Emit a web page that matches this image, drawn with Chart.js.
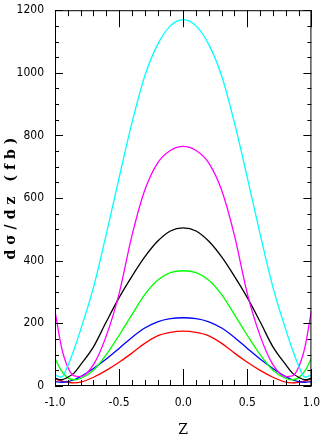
<!DOCTYPE html>
<html>
<head>
<meta charset="utf-8">
<script src="https://cdn.jsdelivr.net/npm/chart.js@4.4.1/dist/chart.umd.min.js"></script>
<style>
  html, body { margin: 0; padding: 0; background: #fff; }
  canvas { display: block; }
</style>
</head>
<body>
<canvas id="chart" width="322" height="436"></canvas>
<script>
const zValues = [-1, -0.95, -0.9, -0.85, -0.8, -0.7, -0.6, -0.5, -0.4, -0.3, -0.2, -0.1, 0,
                 0.1, 0.2, 0.3, 0.4, 0.5, 0.6, 0.7, 0.8, 0.85, 0.9, 0.95, 1];

const cyanVals    = [35, 28, 65, 118, 180, 315, 485, 665, 840, 990, 1090, 1150, 1170,
                     1150, 1090, 990, 840, 665, 485, 315, 180, 118, 65, 28, 35];
const magentaVals = [240, 125, 60, 32, 30, 68, 160, 295, 480, 625, 712, 752, 765,
                     752, 712, 625, 480, 295, 160, 68, 30, 32, 60, 125, 240];
const blackVals   = [25, 20, 28, 42, 68, 125, 205, 282, 350, 412, 462, 495, 505,
                     495, 462, 412, 350, 282, 205, 125, 68, 42, 28, 20, 25];
const greenVals   = [88, 48, 26, 20, 24, 50, 100, 162, 228, 292, 338, 362, 368,
                     362, 338, 292, 228, 162, 100, 50, 24, 20, 26, 48, 88];
const blueVals    = [14, 12, 14, 20, 30, 56, 86, 120, 155, 185, 205, 215, 218,
                     215, 205, 185, 155, 120, 86, 56, 30, 20, 14, 12, 14];
const redVals     = [23, 16, 12, 10, 12, 28, 50, 76, 105, 136, 160, 171, 175,
                     171, 160, 136, 105, 76, 50, 28, 12, 10, 12, 16, 23];

const xTickStep = 0.5;
const yTickStep = 200;
const yTitle = 'dσ/dz (fb)';
const xTitle = 'Z';

function series(vals, color) {
    return {
        data: zValues.map((z, i) => ({ x: z, y: vals[i] })),
        borderColor: color,
        borderWidth: 1.3,
        pointRadius: 0,
        fill: false,
        cubicInterpolationMode: 'monotone'
    };
}

// frame, inward ticks on all four sides, axis titles
const framePlugin = {
    id: 'frame',
    afterDraw(chart) {
        const ctx = chart.ctx;
        const a = chart.chartArea;
        const xs = chart.scales.x, ys = chart.scales.y;
        ctx.save();
        ctx.strokeStyle = '#000';
        ctx.lineWidth = 1;
        ctx.strokeRect(a.left + 0.5, a.top + 0.5, a.right - a.left - 1, a.bottom - a.top - 1);
        ctx.beginPath();
        for (let v = 0; v <= 1200; v += 50) {
            const py = Math.round(ys.getPixelForValue(v)) + 0.5;
            const len = v % 200 === 0 ? 8 : 4;
            ctx.moveTo(a.left, py); ctx.lineTo(a.left + len, py);
            ctx.moveTo(a.right, py); ctx.lineTo(a.right - len, py);
        }
        for (let k = -10; k <= 10; k++) {
            const px = Math.round(xs.getPixelForValue(k / 10)) + 0.5;
            const len = k % 5 === 0 ? 17 : 6;
            ctx.moveTo(px, a.bottom); ctx.lineTo(px, a.bottom - len);
            ctx.moveTo(px, a.top); ctx.lineTo(px, a.top + len);
        }
        ctx.stroke();

        ctx.fillStyle = '#000';
        ctx.textAlign = 'center';
        ctx.textBaseline = 'middle';
        ctx.save();
        ctx.translate(11, (a.top + a.bottom) / 2);
        ctx.rotate(-Math.PI / 2);
        ctx.font = 'bold 14px "DejaVu Serif"';
        ctx.letterSpacing = '5px';
        ctx.fillText(yTitle, 2, 0);
        ctx.restore();
        ctx.font = '14px "DejaVu Serif"';
        ctx.fillText(xTitle, (a.left + a.right) / 2, 430);
        ctx.restore();
    }
};

const tickFont = { family: '"Liberation Sans Narrow", "DejaVu Sans Condensed", sans-serif', size: 12 };

new Chart(document.getElementById('chart'), {
    type: 'line',
    data: {
        datasets: [
            series(cyanVals, '#00ffff'),
            series(magentaVals, '#ff00ff'),
            series(blackVals, '#000000'),
            series(greenVals, '#00ff00'),
            series(blueVals, '#0000ff'),
            series(redVals, '#ff0000')
        ]
    },
    options: {
        responsive: false,
        animation: false,
        devicePixelRatio: 1,
        layout: { padding: { left: 0, right: 6, top: 6, bottom: 0 } },
        plugins: { legend: { display: false }, tooltip: { enabled: false } },
        scales: {
            x: {
                type: 'linear',
                min: -1, max: 1,
                grid: { display: false },
                border: { display: false },
                ticks: {
                    stepSize: xTickStep,
                    color: '#000',
                    font: tickFont,
                    padding: 2,
                    maxRotation: 0,
                    callback: v => v.toFixed(1)
                },
                afterFit: s => { s.height = 50; }
            },
            y: {
                min: 0, max: 1200,
                grid: { display: false },
                border: { display: false },
                ticks: {
                    stepSize: yTickStep,
                    color: '#000',
                    font: tickFont,
                    padding: 3,
                    callback: v => String(v)
                },
                afterFit: s => { s.width = 55; }
            }
        }
    },
    plugins: [framePlugin]
});
</script>
</body>
</html>
